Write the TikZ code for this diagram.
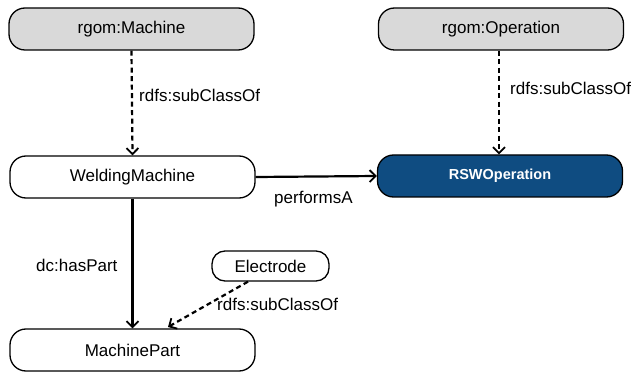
\documentclass[tikz,border=0pt]{standalone}
\usepackage{fontspec}
\setmainfont{Liberation Sans}
\usetikzlibrary{arrows.meta}
\definecolor{boxgray}{HTML}{D9D9D9}
\definecolor{rswblue}{HTML}{0F4C81}
\begin{document}
\begin{tikzpicture}[x=1pt,y=-1pt,
  cls/.style={draw=black, line width=1.3pt, rounded corners=16pt, minimum height=42pt, inner sep=0pt, font=\fontsize{17}{19}\selectfont},
  wide/.style={cls, minimum width=245pt},
  grayc/.style={wide, fill=boxgray},
  bluec/.style={wide, fill=rswblue, text=white, font=\fontsize{14.5}{16}\selectfont\bfseries},
  small/.style={cls, minimum width=117pt, minimum height=30pt, rounded corners=13pt},
  rel/.style={line width=2.2pt, -{Straight Barb[length=6pt,width=12pt,line width=1.8pt]}},
  subrel/.style={rel, dashed, dash pattern=on 5pt off 3.5pt},
  lbl/.style={font=\fontsize{17}{19}\selectfont, inner sep=0pt}
]
\useasboundingbox (0,0) rectangle (634,374);
\node[grayc] (mach) at (131.5,29) {rgom:Machine};
\node[grayc] (oper) at (501,29) {rgom:Operation};
\node[wide, fill=white] (weld) at (132.5,177) {WeldingMachine};
\node[bluec] (rsw) at (500,176) {RSWOperation};
\node[wide, fill=white] (part) at (132.5,350) {MachinePart};
\node[small, fill=white] (elec) at (270.5,266) {Electrode};

\draw[subrel] (mach.south) -- (weld.north);
\draw[subrel] (oper.south -| 499,0) -- (rsw.north -| 499,0);
\draw[rel] (weld.east) -- (rsw.west);
\draw[rel] (weld.south) -- (part.north);
\draw[subrel] (elec.south -| 248,0) -- (168,327);

\node[lbl, anchor=west] (l1) at (139,95) {rdfs:subClassOf};
\node[lbl, anchor=west] (l2) at (510,88) {rdfs:subClassOf};
\node[lbl, anchor=west] (l3) at (274,199) {performsA};
\node[lbl, anchor=west] (l4) at (36,265) {dc:hasPart};
\node[lbl, anchor=west] (l5) at (217,304) {rdfs:subClassOf};
\end{tikzpicture}
\end{document}
